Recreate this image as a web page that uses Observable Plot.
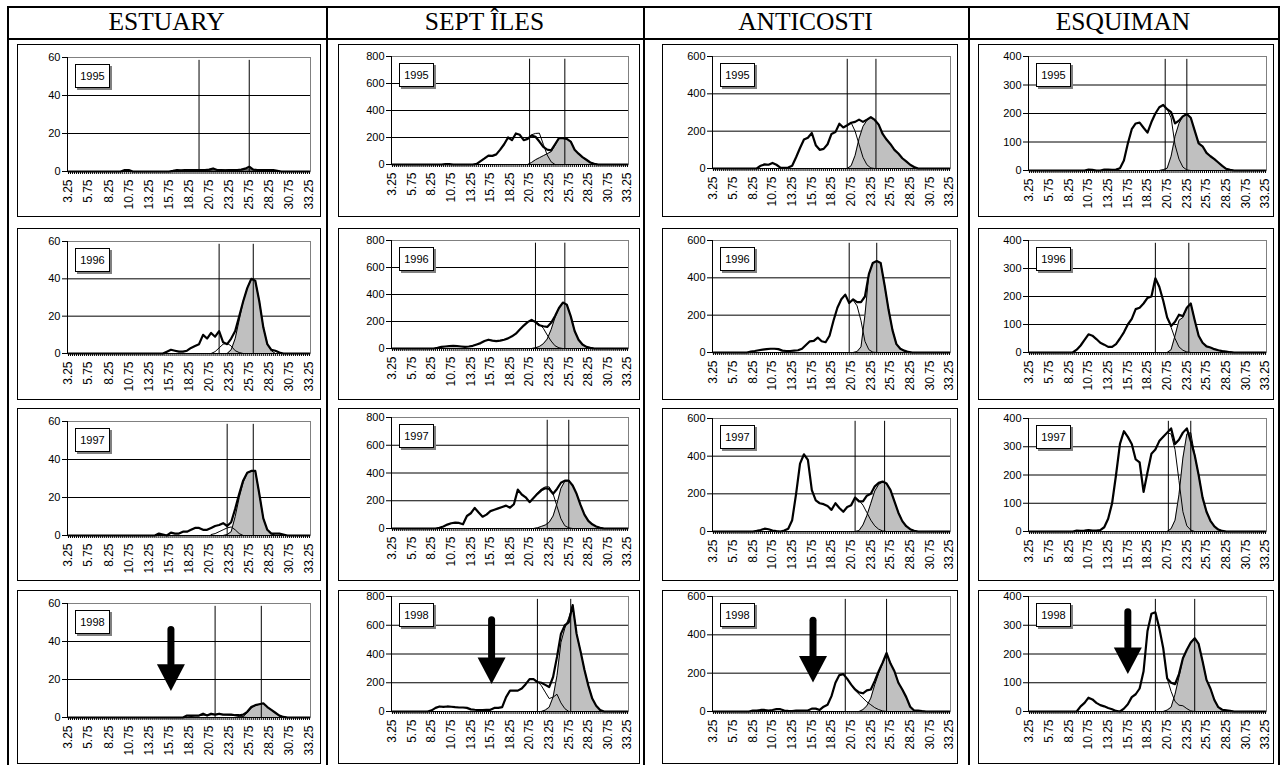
<!DOCTYPE html>
<html><head><meta charset="utf-8">
<script src="https://cdn.jsdelivr.net/npm/d3@7"></script>
<script src="https://cdn.jsdelivr.net/npm/@observablehq/plot@0.6"></script>
<style>
html,body{margin:0;padding:0;background:#fff}
body{width:1282px;height:765px;overflow:hidden;position:relative;font-family:"Liberation Sans",Arial,sans-serif}
.ln{position:absolute;background:#000}
.hdr{position:absolute;font-family:"Liberation Serif","Times New Roman",serif;font-size:25.5px;text-align:center;color:#000}
.box{position:absolute;border:1px solid #000;box-sizing:border-box}
.pl{position:absolute}
.yr{position:absolute;border:1px solid #000;background:#fff;box-shadow:2px 2px 0 #808080;box-sizing:border-box;font-size:11px;text-align:center;font-family:"Liberation Sans",Arial,sans-serif}
</style></head>
<body>
<script>
// ---------------- DATA ----------------
const regions = ["ESTUARY", "SEPT ÎLES", "ANTICOSTI", "ESQUIMAN"];
const years = ["1995", "1996", "1997", "1998"];
const yMax = [60, 800, 600, 400];
const yTicks = [[0, 20, 40, 60], [0, 200, 400, 600, 800], [0, 200, 400, 600], [0, 100, 200, 300, 400]];
const xTickLabels = ["3.25", "5.75", "8.25", "10.75", "13.25", "15.75", "18.25", "20.75", "23.25", "25.75", "28.25", "30.75", "33.25"];
const STEP = 0.5; // spacing of the values

// ESTUARY
const est95Total = {x0: 9.75, v: [0, 0.8, 0.8, 0, 0, 0, 0, 0, 0, 0, 0, 0, 0, 0.3, 0.8, 0.6, 0.8, 0.8, 0.8, 0.8, 0.8, 0.8, 1.0, 1.6, 0.8, 0.8, 0.6, 0.8, 0.8, 0.8, 1.0, 1.5, 2.5, 1.0, 0.8, 0.8, 0.8, 0.8, 0.8, 0.4, 0]};
const est95M1 = {x0: 16.25, v: [0, 0.4, 0.5, 0.5, 0.5, 0.5, 0.5, 0.5, 0.4, 0.3, 0.1, 0]};
const est95M2 = {x0: 17.75, v: [0, 0.8, 0.8, 0.8, 0.8, 0.8, 0.8, 0.8, 0.8, 0.8, 0.8, 0.8, 0.8, 0.8, 0.8, 0.8, 0.8, 0.8, 0.8, 0.8, 0.8, 0]};
const est95Modes = [19.5, 25.75];
const est96Total = {x0: 15, v: [0, 1, 2, 1.5, 1, 1, 1.5, 3, 4, 5, 10, 8, 11, 9, 12, 6, 5, 8, 12, 20, 28, 35, 40, 39, 28, 14, 5, 2, 1.5, 0.5, 0]};
const est96M1 = {x0: 21, v: [0, 1, 3, 5, 5.5, 4, 1.5, 0.5, 0]};
const est96M2 = {x0: 23, v: [0, 2, 8, 18, 28, 35, 40, 39, 28, 14, 5, 1.5, 0]};
const est96Modes = [22, 26.25];
const est97Total = {x0: 14, v: [0, 1, 0.5, 0, 1.5, 1, 1, 2, 2, 3, 4, 4, 3, 3, 4, 5, 5.5, 6.5, 5, 7, 14, 22, 29, 33, 34, 34, 22, 9, 3, 1, 1, 1, 0.5, 0]};
const est97M1 = {x0: 21, v: [0.5, 1, 2, 3, 4, 4.5, 3, 1, 0]};
const est97M2 = {x0: 22.5, v: [0, 0.5, 2, 10, 20, 28, 33, 34, 34, 22, 9, 3, 1, 0]};
const est97Modes = [23, 26.25];
const est98Total = {x0: 17.5, v: [0, 1, 1, 1, 1, 2, 1, 2, 1.5, 2, 1.5, 1.5, 1.5, 1.2, 1.2, 1.5, 3, 5.5, 6.5, 7, 7.5, 5.5, 4, 2.5, 1, 0.3, 0]};
const est98M1 = {x0: 18, v: [0, 0.5, 1, 1, 1.2, 1.3, 1.4, 1.5, 1.5, 1.5, 1.4, 1.2, 1, 0.5, 0.2, 0]};
const est98M2 = {x0: 24.5, v: [0, 0.5, 2.5, 5, 6.3, 7, 7.3, 5.5, 4, 2.5, 1, 0.3, 0]};
const est98Modes = [21.5, 27.25];

// SEPT ÎLES
const sep95Total = {x0: 9.5, v: [0, 3, 3, 0, 0, 0, 0, 0, 0, 5, 25, 45, 66, 64, 75, 110, 150, 200, 180, 230, 220, 180, 190, 215, 205, 170, 130, 110, 105, 150, 195, 195, 190, 170, 110, 80, 55, 35, 15, 5, 0]};
const sep95M1 = {x0: 20.5, v: [190, 220, 230, 232, 150, 70, 20, 0]};
const sep95M2 = {x0: 20.5, v: [0, 15, 35, 50, 65, 80, 95, 140, 195, 195, 190, 170, 110, 80, 55, 35, 15, 5, 0]};
const sep95Modes = [20.75, 25.25];
const sep96Total = {x0: 8.5, v: [0, 5, 12, 15, 18, 20, 18, 15, 12, 15, 20, 30, 40, 55, 65, 58, 55, 58, 65, 75, 90, 110, 140, 170, 195, 212, 195, 172, 165, 160, 190, 240, 300, 340, 325, 240, 130, 65, 30, 12, 5, 0]};
const sep96M1 = {x0: 21, v: [212, 200, 180, 150, 100, 55, 20, 5, 0]};
const sep96M2 = {x0: 21, v: [0, 5, 15, 35, 70, 140, 230, 300, 340, 325, 240, 130, 65, 30, 12, 5, 0]};
const sep96Modes = [21.5, 25.25];
const sep97Total = {x0: 8.75, v: [0, 5, 15, 28, 38, 42, 40, 30, 90, 110, 148, 115, 85, 100, 125, 135, 145, 155, 165, 150, 175, 280, 245, 225, 190, 220, 250, 275, 290, 285, 250, 285, 330, 345, 345, 310, 250, 170, 100, 55, 30, 15, 5, 0]};
const sep97M1 = {x0: 21.25, v: [220, 255, 285, 300, 300, 250, 160, 70, 20, 5, 0]};
const sep97M2 = {x0: 21.25, v: [0, 5, 15, 25, 45, 90, 180, 290, 340, 345, 310, 250, 170, 100, 55, 30, 15, 5, 0]};
const sep97Modes = [23, 25.75];
const sep98Total = {x0: 7.75, v: [0, 8, 25, 35, 32, 35, 33, 30, 28, 28, 25, 15, 12, 10, 10, 12, 12, 25, 25, 30, 100, 145, 145, 145, 160, 190, 225, 225, 205, 200, 185, 170, 240, 380, 540, 600, 620, 740, 540, 420, 290, 180, 90, 40, 10, 0]};
const sep98M1 = {x0: 21.25, v: [225, 210, 180, 135, 90, 100, 120, 60, 20, 0]};
const sep98M2 = {x0: 22.25, v: [0, 10, 30, 100, 250, 480, 580, 650, 740, 540, 420, 290, 180, 90, 40, 10, 0]};
const sep98Modes = [21.75, 26];

// ANTICOSTI
const ant95Total = {x0: 8.75, v: [0, 15, 22, 20, 30, 20, 5, 3, 5, 15, 60, 110, 155, 165, 190, 125, 100, 105, 130, 185, 195, 240, 220, 232, 245, 250, 262, 250, 262, 275, 260, 235, 185, 155, 130, 100, 80, 55, 38, 20, 8, 0]};
const ant95M1 = {x0: 20.25, v: [232, 245, 200, 130, 60, 20, 3, 0]};
const ant95M2 = {x0: 20.25, v: [0, 15, 70, 160, 225, 258, 272, 260, 235, 185, 155, 130, 100, 80, 55, 38, 20, 8, 0]};
const ant95Modes = [20.25, 23.9];
const ant96Total = {x0: 7.5, v: [0, 5, 8, 12, 15, 18, 20, 20, 18, 10, 8, 8, 10, 12, 20, 40, 60, 62, 80, 60, 55, 90, 170, 240, 285, 310, 265, 285, 270, 270, 300, 420, 480, 490, 480, 360, 230, 120, 45, 20, 10, 3, 0]};
const ant96M1 = {x0: 20.5, v: [265, 280, 250, 170, 60, 15, 2, 0]};
const ant96M2 = {x0: 21, v: [0, 5, 30, 200, 420, 480, 490, 480, 360, 230, 120, 45, 20, 10, 3, 0]};
const ant96Modes = [20.5, 24];
const ant97Total = {x0: 8.25, v: [0, 3, 8, 15, 12, 5, 2, 0, 5, 15, 60, 200, 360, 410, 380, 220, 165, 150, 145, 135, 115, 150, 125, 105, 130, 140, 180, 160, 160, 190, 200, 240, 258, 265, 255, 220, 160, 100, 55, 28, 12, 4, 0]};
const ant97M1 = {x0: 21.25, v: [180, 165, 140, 100, 60, 30, 12, 3, 0]};
const ant97M2 = {x0: 21.25, v: [0, 5, 35, 85, 150, 215, 250, 265, 255, 220, 160, 100, 55, 28, 12, 4, 0]};
const ant97Modes = [21.25, 25];
const ant98Total = {x0: 7.75, v: [0, 5, 5, 8, 8, 5, 8, 12, 12, 5, 3, 2, 5, 5, 5, 5, 15, 15, 8, 25, 35, 80, 150, 190, 195, 170, 140, 115, 100, 95, 110, 115, 160, 210, 255, 305, 250, 210, 150, 115, 75, 25, 5, 5, 2, 0]};
const ant98M1 = {x0: 20.25, v: [170, 140, 110, 90, 70, 50, 35, 20, 10, 3, 0]};
const ant98M2 = {x0: 21.75, v: [0, 10, 30, 70, 140, 200, 250, 300, 250, 210, 150, 115, 75, 25, 5, 5, 2, 0]};
const ant98Modes = [20, 25.25];

// ESQUIMAN
const esq95Total = {x0: 10.25, v: [0, 3, 2, 0, 0, 3, 3, 2, 3, 8, 35, 95, 145, 165, 168, 150, 133, 170, 200, 222, 230, 215, 205, 165, 175, 190, 198, 185, 140, 95, 85, 62, 50, 40, 28, 16, 6, 2, 0]};
const esq95M1 = {x0: 20.25, v: [230, 215, 185, 90, 40, 12, 2, 0]};
const esq95M2 = {x0: 19.75, v: [0, 3, 8, 50, 120, 165, 190, 198, 185, 140, 95, 85, 62, 50, 40, 28, 16, 6, 2, 0]};
const esq95Modes = [20.5, 23.25];
const esq96Total = {x0: 8.75, v: [0, 10, 25, 45, 65, 60, 48, 35, 28, 20, 20, 30, 50, 72, 100, 120, 155, 160, 175, 195, 200, 265, 235, 185, 125, 95, 110, 135, 130, 160, 175, 115, 60, 35, 22, 18, 12, 8, 5, 3, 1, 0]};
const esq96M1 = {x0: 20.75, v: [125, 90, 50, 20, 8, 2, 0]};
const esq96M2 = {x0: 20.75, v: [0, 10, 60, 115, 125, 160, 175, 115, 60, 35, 22, 18, 12, 8, 5, 3, 1, 0]};
const esq96Modes = [19.25, 23.5];
const esq97Total = {x0: 8.75, v: [0, 3, 2, 3, 5, 3, 3, 5, 15, 45, 100, 200, 310, 355, 335, 310, 255, 245, 140, 210, 275, 290, 320, 335, 350, 365, 310, 325, 350, 365, 320, 270, 200, 120, 70, 38, 18, 7, 2, 0]};
const esq97M1 = {x0: 20.75, v: [350, 345, 290, 180, 70, 20, 5, 0]};
const esq97M2 = {x0: 20.75, v: [0, 10, 40, 130, 260, 345, 350, 270, 200, 120, 70, 38, 18, 7, 2, 0]};
const esq97Modes = [20.9, 23.75];
const esq98Total = {x0: 9.25, v: [0, 18, 30, 48, 42, 30, 22, 18, 12, 8, 2, 0, 10, 25, 50, 60, 80, 140, 280, 340, 345, 290, 220, 115, 100, 95, 130, 185, 215, 240, 255, 235, 175, 110, 80, 40, 15, 6, 4, 2, 0]};
const esq98M1 = {x0: 20.75, v: [115, 70, 35, 22, 20, 10, 2, 0]};
const esq98M2 = {x0: 20.25, v: [0, 5, 15, 60, 120, 185, 215, 240, 255, 235, 175, 110, 80, 40, 15, 6, 4, 2, 0]};
const esq98Modes = [19.25, 24.25];

// 1998 arrows (per region): x position, top and base of the head, in data units
const arrowX = [16, 15.9, 15.9, 15.75];
const arrowTop = [46, 635, 473, 345];
const arrowBase = [28, 376, 290, 223];

const panelData = [
  [[est95Total, est95M1, est95M2, est95Modes], [est96Total, est96M1, est96M2, est96Modes], [est97Total, est97M1, est97M2, est97Modes], [est98Total, est98M1, est98M2, est98Modes]],
  [[sep95Total, sep95M1, sep95M2, sep95Modes], [sep96Total, sep96M1, sep96M2, sep96Modes], [sep97Total, sep97M1, sep97M2, sep97Modes], [sep98Total, sep98M1, sep98M2, sep98Modes]],
  [[ant95Total, ant95M1, ant95M2, ant95Modes], [ant96Total, ant96M1, ant96M2, ant96Modes], [ant97Total, ant97M1, ant97M2, ant97Modes], [ant98Total, ant98M1, ant98M2, ant98Modes]],
  [[esq95Total, esq95M1, esq95M2, esq95Modes], [esq96Total, esq96M1, esq96M2, esq96Modes], [esq97Total, esq97M1, esq97M2, esq97Modes], [esq98Total, esq98M1, esq98M2, esq98Modes]]
];

// ---------------- LAYOUT ----------------
const COL_LINES = [7, 326, 643, 968, 1278];
const TOP_LINE = 6, HEAD_LINE = 38;
const BOX_X = [[17, 321], [338, 640], [662, 958], [978, 1274]];
const BOX_Y = [[44, 217], [228, 400], [408, 581], [590, 764]];
const PLOT_X = [[67, 310], [391, 628], [712, 950], [1028, 1266]];
const PLOT_TOP = [[57, 56, 56, 56], [241, 240, 240, 240], [421, 417, 418, 418], [603, 596, 596, 596]];
const PLOT_ZERO = [[171, 164, 168, 170], [353, 348, 352, 352], [535, 528, 531, 531], [717, 711, 711, 711]];
const X_LO = 3.125, X_HI = 33.375;

function el(cls, style, text) {
  const d = document.createElement("div");
  d.className = cls;
  Object.assign(d.style, style);
  if (text != null) d.textContent = text;
  document.body.appendChild(d);
  return d;
}
// table lines
el("ln", {left: COL_LINES[0] + "px", top: TOP_LINE + "px", width: (COL_LINES[4] - COL_LINES[0] + 2) + "px", height: "2px"});
el("ln", {left: COL_LINES[0] + "px", top: HEAD_LINE + "px", width: (COL_LINES[4] - COL_LINES[0] + 2) + "px", height: "2px"});
COL_LINES.forEach(x => el("ln", {left: x + "px", top: TOP_LINE + "px", width: "2px", height: (765 - TOP_LINE) + "px"}));
regions.forEach((name, c) => el("hdr", {left: COL_LINES[c] + "px", width: (COL_LINES[c + 1] - COL_LINES[c]) + "px", top: (TOP_LINE + 1) + "px", height: (HEAD_LINE - TOP_LINE - 2) + "px", lineHeight: (HEAD_LINE - TOP_LINE - 2) + "px"}, name));

const pts = s => s.v.map((y, i) => ({x: s.x0 + i * STEP, y}));
const downTriangle = {draw(ctx, size) { const r = Math.sqrt(size / Math.PI); ctx.moveTo(-r, 0); ctx.lineTo(r, 0); ctx.lineTo(0, 1.9 * r); ctx.closePath(); }};
const xCategories = d3.range(121).map(i => 3.25 + i * 0.25);

regions.forEach((name, c) => {
  years.forEach((yr, r) => {
    const [tot, m1, m2, modes] = panelData[c][r];
    const [bx0, bx1] = BOX_X[c], [by0, by1] = BOX_Y[r];
    const W = bx1 - bx0, H = by1 - by0;
    el("box", {left: bx0 + "px", top: by0 + "px", width: W + "px", height: H + "px"});
    const totalPts = [{x: 3.25, y: 0}, ...pts(tot), {x: 33.25, y: 0}];
    const m1Pts = pts(m1), m2Pts = pts(m2);
    const ym = yMax[c];
    const marks = [
      Plot.gridY(yTicks[c].filter(t => t > 0 && t < ym), {stroke: "#000", strokeOpacity: 1}),
      Plot.ruleY([ym], {stroke: "#808080"}),
      Plot.ruleX([X_HI], {stroke: "#808080"}),
      Plot.areaY(m2Pts, {x: "x", y: "y", fill: "#c0c0c0"}),
      Plot.line(m2Pts, {x: "x", y: "y", stroke: "#000", strokeWidth: 1}),
      Plot.line(m1Pts, {x: "x", y: "y", stroke: "#000", strokeWidth: 1}),
      Plot.ruleX(modes, {y1: 0, y2: ym * 0.975, stroke: "#000", strokeWidth: 1}),
      Plot.ruleY([0], {stroke: "#000"}),
      Plot.ruleX([X_LO], {stroke: "#000"}),
      Plot.line(totalPts, {x: "x", y: "y", stroke: "#000", strokeWidth: 2.2, strokeLinejoin: "round"}),
      Plot.axisY(yTicks[c], {tickSize: 5, tickPadding: 2, label: null, fontSize: 11}),
      Plot.axisX(xCategories, {tickSize: 3, tickPadding: 5, tickRotate: -90, label: null, fontSize: 12,
        tickFormat: d => { const s = d.toFixed(2); return xTickLabels.includes(s) ? s : ""; }})
    ];
    if (r === 3) {
      const arr = [{x: arrowX[c], top: arrowTop[c], base: arrowBase[c]}];
      marks.push(Plot.ruleX(arr, {x: "x", y1: "base", y2: "top", stroke: "#000", strokeWidth: 7, strokeLinecap: "round"}));
      marks.push(Plot.dot(arr, {x: "x", y: "base", r: 14, symbol: downTriangle, fill: "#000", stroke: "none"}));
    }
    const svg = Plot.plot({
      width: W, height: H,
      marginLeft: PLOT_X[c][0] - bx0, marginRight: bx1 - PLOT_X[c][1],
      marginTop: PLOT_TOP[r][c] - by0, marginBottom: by1 - PLOT_ZERO[r][c],
      x: {domain: [X_LO, X_HI]},
      y: {domain: [0, ym]},
      style: {background: "transparent", fontFamily: "'Liberation Sans', Arial, sans-serif", fontSize: "11px", color: "#000", overflow: "visible"},
      marks
    });
    svg.classList.add("pl");
    svg.style.position = "absolute";
    svg.style.left = bx0 + "px";
    svg.style.top = by0 + "px";
    document.body.appendChild(svg);
    el("yr", {left: (PLOT_X[c][0] + 8) + "px", top: (PLOT_TOP[r][c] + 7) + "px", width: "35px", height: "24px", lineHeight: "22px"}, yr);
  });
});
</script>
</body></html>
